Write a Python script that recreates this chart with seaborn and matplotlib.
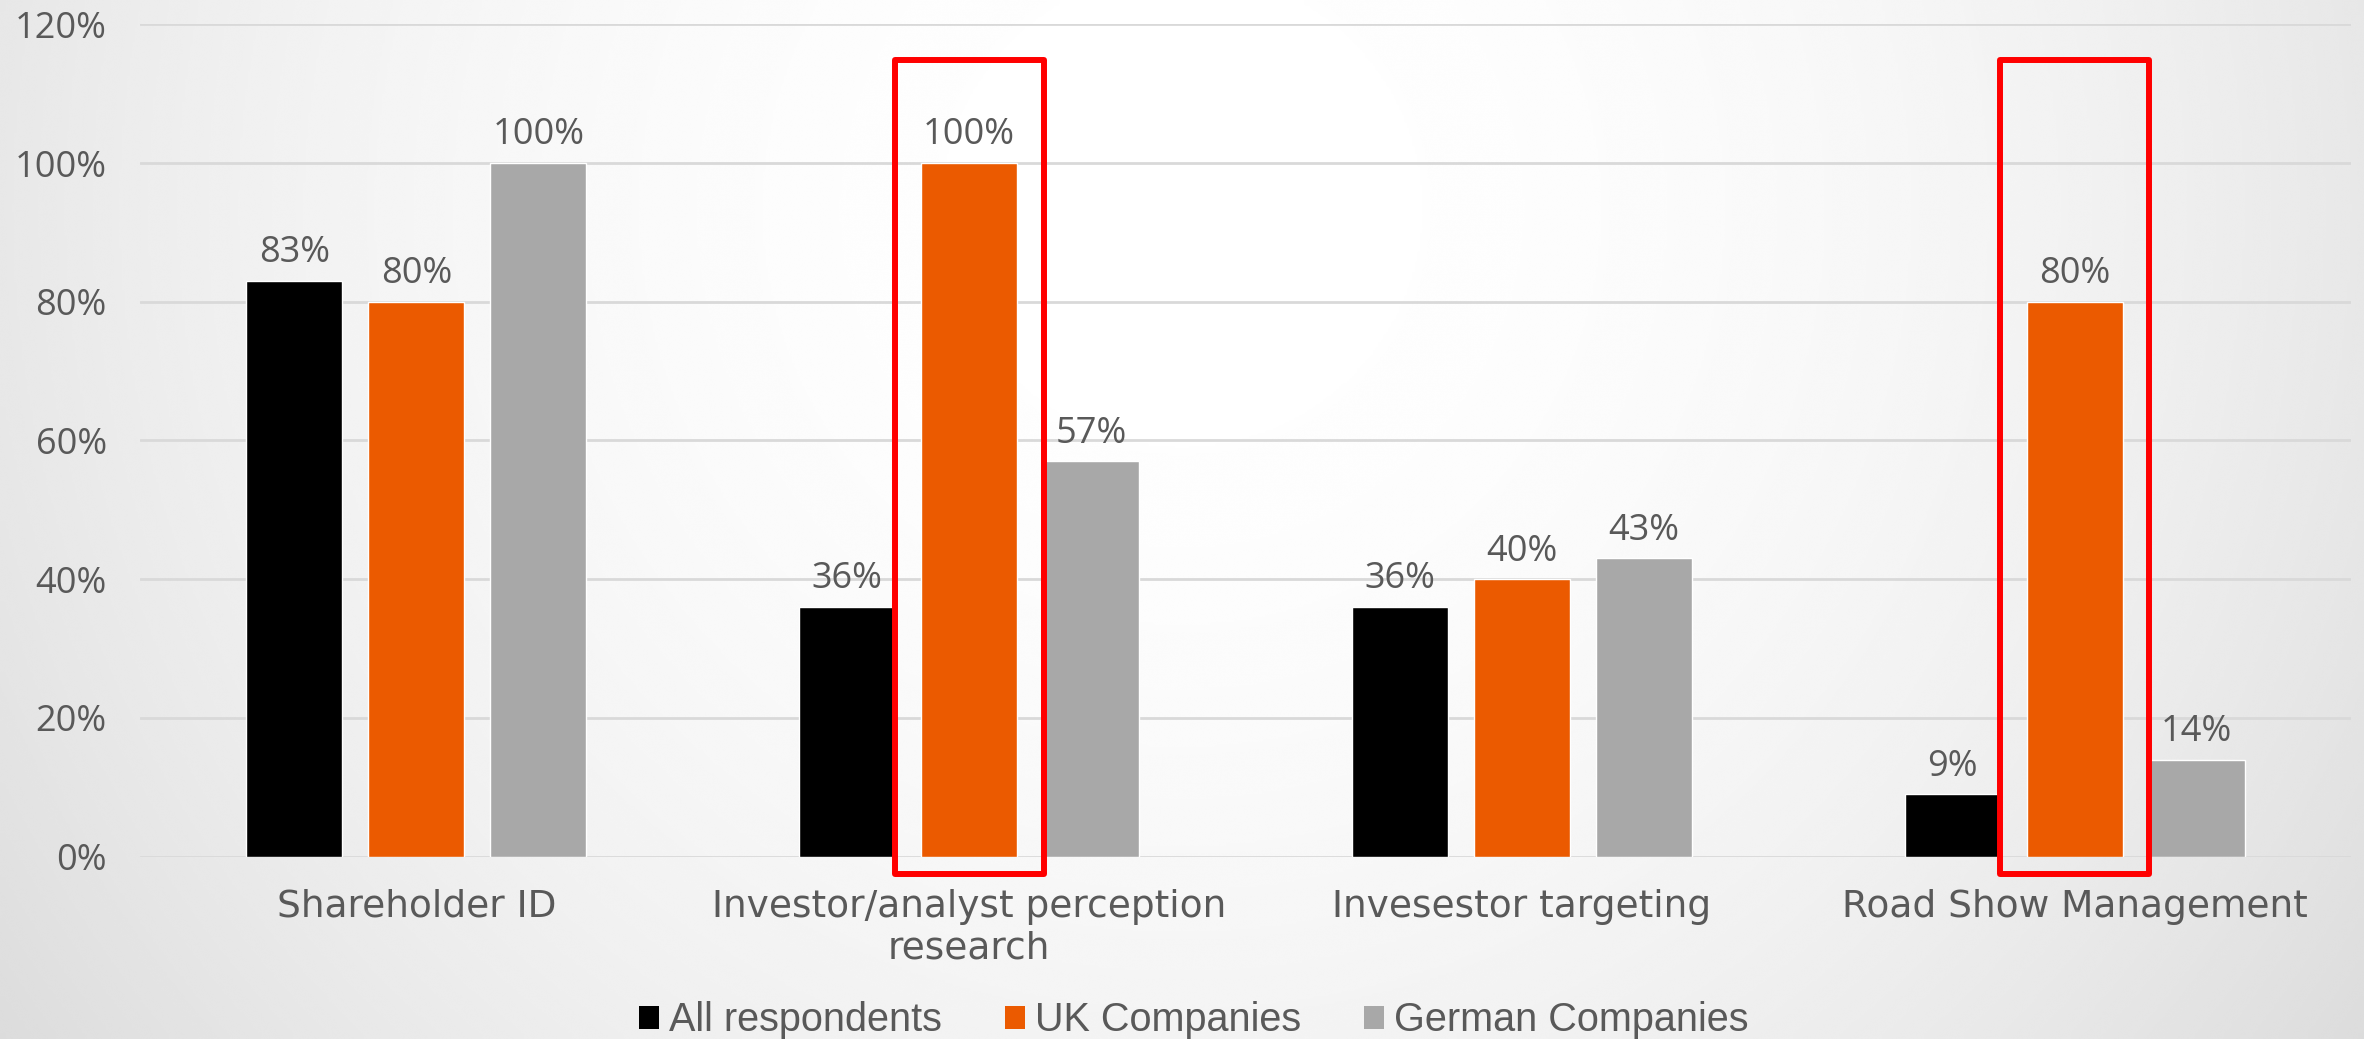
import numpy as np
import pandas as pd
import matplotlib
matplotlib.use("Agg")
import matplotlib.pyplot as plt
from matplotlib.patches import Rectangle, Patch
import seaborn as sns

# --- data -------------------------------------------------------------
categories = ["Shareholder ID",
              "Investor/analyst perception\nresearch",
              "Invesestor targeting",
              "Road Show Management"]
series = ["All respondents", "UK Companies", "German Companies"]
all_respondents = [83, 36, 36, 9]
uk_companies = [80, 100, 40, 80]
german_companies = [100, 57, 43, 14]
y_ticks = [0, 20, 40, 60, 80, 100, 120]
highlighted = [categories[1], categories[3]]

colors = {"All respondents": "#000000",
          "UK Companies": "#EB5A00",
          "German Companies": "#A8A8A8"}

df = pd.DataFrame({
    "category": categories * 3,
    "series": np.repeat(series, len(categories)),
    "value": all_respondents + uk_companies + german_companies,
})

# --- figure -----------------------------------------------------------
sns.set_theme(style="white")
plt.rcParams["font.family"] = ["DejaVu Sans"]
text_grey = "#595959"
num_font = "Open Sans"

W, H = 2364, 1039
fig = plt.figure(figsize=(W / 100, H / 100), dpi=100)

# soft radial background: white near the top centre, grey towards the sides
bg = fig.add_axes([0, 0, 1, 1], zorder=-10)
ys, xs = np.mgrid[0:1:400j, 0:1:900j]          # ys measured from the top
r2 = ((xs - 0.5) / 0.62) ** 2 + ((ys - 0.2) / 1.4) ** 2
shade = 1.0 - 0.14 * np.clip(r2, 0, 1)
bg.imshow(shade, cmap="gray", vmin=0, vmax=1, aspect="auto",
          extent=[0, 1, 0, 1], origin="upper", interpolation="bicubic")
bg.set_axis_off()

ax = fig.add_axes([140 / W, 1 - 856.7 / H, (2351 - 140) / W, (856.7 - 24.3) / H])
ax.set_facecolor("none")

sns.barplot(data=df, x="category", y="value", hue="series",
            order=categories, hue_order=series, palette=colors,
            width=0.662, gap=0.212, saturation=1, errorbar=None,
            legend=False, zorder=3, ax=ax)

ax.set_ylim(0, 120)
ax.set_xlim(-0.5, len(categories) - 0.5)
ax.set_yticks(y_ticks)
ax.set_yticklabels([f"{t}%" for t in y_ticks])
ax.yaxis.grid(True, color="#D9D9D9", linewidth=2, zorder=0)
ax.set_axisbelow(True)
for s in ax.spines.values():
    s.set_visible(False)
ax.tick_params(axis="both", length=0, colors=text_grey)
ax.tick_params(axis="y", pad=24, labelsize=26)
ax.tick_params(axis="x", pad=23, labelsize=27)
for lbl in ax.get_yticklabels():
    lbl.set_family(num_font)
ax.set_xlabel("")
ax.set_ylabel("")

for cont in ax.containers:
    ax.bar_label(cont, labels=[f"{v:.0f}%" for v in cont.datavalues],
                 padding=7, fontsize=26, color=text_grey, family=num_font)

# red frames around the highlighted UK bars
for cat in highlighted:
    i = categories.index(cat)
    ax.add_patch(Rectangle((i - 0.135, -2.45), 0.27, 117.35, fill=False,
                           edgecolor="#FF0000", linewidth=4.3,
                           joinstyle="round", clip_on=False, zorder=5))

handles = [Patch(facecolor=colors[s], edgecolor="none", label=s) for s in series]
fig.legend(handles=handles, loc="center", bbox_to_anchor=(0.505, 0.018),
           ncol=3, frameon=False, handlelength=0.5, handleheight=0.5,
           handletextpad=0.25, columnspacing=1.6,
           prop={"family": "Liberation Sans", "size": 28.5},
           labelcolor=text_grey)

fig.savefig("out.png", dpi=100)
